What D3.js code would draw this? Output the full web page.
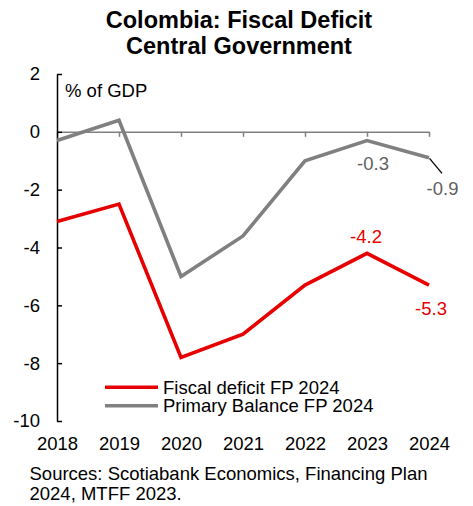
<!DOCTYPE html>
<html>
<head>
<meta charset="utf-8">
<script src="https://cdn.jsdelivr.net/npm/d3@7"></script>
<style>
  html, body { margin: 0; padding: 0; background: #fff; }
  svg { display: block; font-family: "Liberation Sans", Arial, sans-serif; }
</style>
</head>
<body>
<svg id="chart" width="473" height="506"></svg>
<script>
// Colombia central government balances, % of GDP
const years = ["2018", "2019", "2020", "2021", "2022", "2023", "2024"];
const fiscalDeficit = [-3.1, -2.5, -7.8, -7.0, -5.3, -4.2, -5.3];
const primaryBalance = [-0.3, 0.4, -5.0, -3.6, -1.0, -0.3, -0.9];
const yTicks = [-10, -8, -6, -4, -2, 0, 2];
const seriesNames = ["Fiscal deficit FP 2024", "Primary Balance FP 2024"];
const titleLines = ["Colombia: Fiscal Deficit", "Central Government"];
const sourceLines = ["Sources: Scotiabank Economics, Financing Plan", "2024, MTFF 2023."];

const RED = "#e60000";
const GREY = "#808080";
const FS = 18.5;

// plain hyphen-minus for negative numbers
const fmtTick = d => String(d);
const fmtValue = d => d.toFixed(1);

const svg = d3.select("#chart");

const x = d3.scalePoint().domain(years).range([57, 429]).padding(0);
const y = d3.scaleLinear().domain([-10, 2]).range([421, 74]);

// Title
svg.append("g").selectAll("text").data(titleLines).join("text")
  .attr("x", 239)
  .attr("y", (d, i) => 28 + i * 26)
  .attr("text-anchor", "middle")
  .attr("font-weight", "bold")
  .attr("font-size", 23.5)
  .attr("fill", "#000")
  .text(d => d);

// Zero line with category ticks pointing down
const zeroAxis = svg.append("g")
  .attr("transform", `translate(0,${y(0)})`)
  .call(d3.axisBottom(x).tickSize(5).tickSizeOuter(0).tickFormat(""));
zeroAxis.selectAll("path, line").attr("stroke", GREY).attr("stroke-width", 1.5);

// Left value axis, ticks pointing inward
const yAxis = svg.append("g")
  .attr("transform", "translate(57,0)")
  .call(d3.axisLeft(y).tickValues(yTicks).tickFormat(fmtTick)
    .tickSize(-5).tickSizeOuter(0).tickPadding(17));
yAxis.selectAll("path, line").attr("stroke", "#000").attr("stroke-width", 1.5);
yAxis.selectAll("text").attr("font-size", FS).attr("font-family", null).attr("fill", "#000");

// Year labels along the bottom
const xAxis = svg.append("g")
  .attr("transform", `translate(0,${y(-10)})`)
  .call(d3.axisBottom(x).tickSize(0).tickPadding(16));
xAxis.select(".domain").remove();
xAxis.selectAll("text").attr("font-size", FS).attr("font-family", null).attr("fill", "#000");

// Unit label
svg.append("text")
  .attr("x", 65).attr("y", 96.5)
  .attr("font-size", FS).attr("fill", "#000")
  .text("% of GDP");

// Series lines
const line = d3.line()
  .x((d, i) => x(years[i]))
  .y(d => y(d));

svg.append("path")
  .datum(primaryBalance)
  .attr("fill", "none")
  .attr("stroke", GREY)
  .attr("stroke-width", 3.6)
  .attr("stroke-linejoin", "miter")
  .attr("d", line);

svg.append("path")
  .datum(fiscalDeficit)
  .attr("fill", "none")
  .attr("stroke", RED)
  .attr("stroke-width", 3.6)
  .attr("stroke-linejoin", "miter")
  .attr("d", line);

// Value labels for the last two years
const i23 = years.indexOf("2023");
const i24 = years.indexOf("2024");

// leader line for the 2024 primary balance label
svg.append("line")
  .attr("x1", x(years[i24]) + 0.5).attr("y1", y(primaryBalance[i24]) + 0.5)
  .attr("x2", x(years[i24]) + 13).attr("y2", y(primaryBalance[i24]) + 15.5)
  .attr("stroke", "#000").attr("stroke-width", 1.3);

const valueLabels = [
  { v: primaryBalance[i23], yr: years[i23], dx: 6, dy: 29.5, color: "#606060" },
  { v: primaryBalance[i24], yr: years[i24], dx: 13.5, dy: 37, color: "#606060" },
  { v: fiscalDeficit[i23], yr: years[i23], dx: -1, dy: -10, color: RED },
  { v: fiscalDeficit[i24], yr: years[i24], dx: 2, dy: 30, color: RED }
];
svg.append("g").selectAll("text").data(valueLabels).join("text")
  .attr("x", d => x(d.yr) + d.dx)
  .attr("y", d => y(d.v) + d.dy)
  .attr("text-anchor", "middle")
  .attr("font-size", FS)
  .attr("fill", d => d.color)
  .text(d => fmtValue(d.v));

// Legend
const legend = svg.append("g");
const legendColors = [RED, GREY];
seriesNames.forEach((name, i) => {
  const ly = 387.3 + i * 18.4;
  legend.append("line")
    .attr("x1", 105).attr("x2", 158)
    .attr("y1", ly).attr("y2", ly)
    .attr("stroke", legendColors[i]).attr("stroke-width", 3.6);
  legend.append("text")
    .attr("x", 163).attr("y", ly + 6.7)
    .attr("font-size", FS).attr("fill", "#000")
    .text(name);
});

// Source note
svg.append("g").selectAll("text").data(sourceLines).join("text")
  .attr("x", 29.5)
  .attr("y", (d, i) => 480 + i * 19.5)
  .attr("font-size", FS)
  .attr("fill", "#000")
  .text(d => d);
</script>
</body>
</html>
